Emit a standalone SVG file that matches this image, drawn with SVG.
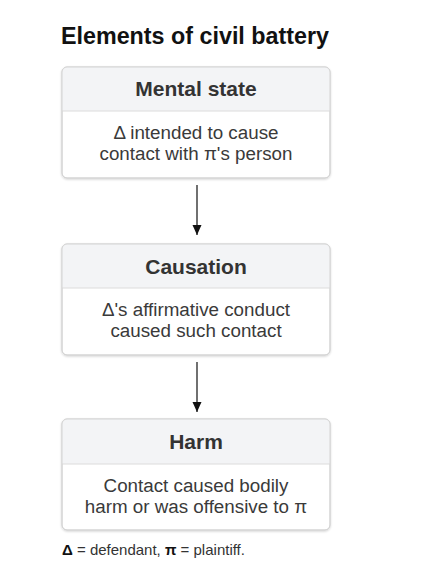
<svg xmlns="http://www.w3.org/2000/svg" width="430" height="566" viewBox="0 0 430 566">
<defs>
<style>
text{font-family:"Liberation Sans",Arial,sans-serif;fill:#222;text-anchor:middle}
.title{font-size:23.3px;font-weight:bold;fill:#111}
.hd{font-size:21px;font-weight:bold;fill:#333}
.bd{font-size:18.8px;fill:#3a3a3a}
.box{fill:#fff;stroke:#d4d4d4;stroke-width:1}
.hdr{fill:#f3f4f6}
.div{stroke:#dcdcdc;stroke-width:1}
.conn{stroke:#111;stroke-width:1.2;fill:none}
.note{font-size:15px;fill:#333;text-anchor:start}
</style>
<filter id="sh" x="-10%" y="-10%" width="120%" height="130%">
<feDropShadow dx="0" dy="1" stdDeviation="1" flood-color="#000" flood-opacity="0.18"/>
</filter>
<marker id="ah" markerWidth="10" markerHeight="12" refX="10" refY="4.5" orient="auto" markerUnits="userSpaceOnUse">
<path d="M0,0 L10,4.5 L0,9 z" fill="#111"/>
</marker>
<clipPath id="c1"><rect x="62" y="67" width="268" height="111" rx="5"/></clipPath>
<clipPath id="c2"><rect x="62" y="244" width="268" height="111" rx="5"/></clipPath>
<clipPath id="c3"><rect x="62" y="419" width="268" height="111" rx="5"/></clipPath>
</defs>
<text class="title" x="195" y="44">Elements of civil battery</text>
<g id="mental-state">
<rect class="box" x="62" y="67" width="268" height="111" rx="5" filter="url(#sh)"/>
<rect class="hdr" x="62" y="67" width="268" height="44" clip-path="url(#c1)"/>
<line class="div" x1="62" y1="111" x2="330" y2="111"/>
<rect x="62" y="67" width="268" height="111" rx="5" fill="none" stroke="#d4d4d4"/>
<text class="hd" x="196" y="96">Mental state</text>
<text class="bd" x="196" y="138.5">Δ intended to cause</text>
<text class="bd" x="196" y="160">contact with π's person</text>
</g>
<g id="causation">
<rect class="box" x="62" y="244" width="268" height="111" rx="5" filter="url(#sh)"/>
<rect class="hdr" x="62" y="244" width="268" height="44" clip-path="url(#c2)"/>
<line class="div" x1="62" y1="288" x2="330" y2="288"/>
<rect x="62" y="244" width="268" height="111" rx="5" fill="none" stroke="#d4d4d4"/>
<text class="hd" x="196" y="274">Causation</text>
<text class="bd" x="196" y="315.5">Δ's affirmative conduct</text>
<text class="bd" x="196" y="337">caused such contact</text>
</g>
<g id="harm">
<rect class="box" x="62" y="419" width="268" height="111" rx="5" filter="url(#sh)"/>
<rect class="hdr" x="62" y="419" width="268" height="45" clip-path="url(#c3)"/>
<line class="div" x1="62" y1="464" x2="330" y2="464"/>
<rect x="62" y="419" width="268" height="111" rx="5" fill="none" stroke="#d4d4d4"/>
<text class="hd" x="196" y="449">Harm</text>
<text class="bd" x="196" y="491.5">Contact caused bodily</text>
<text class="bd" x="196" y="513">harm or was offensive to π</text>
</g>
<g id="connectors">
<line class="conn" x1="197" y1="185" x2="197" y2="235" marker-end="url(#ah)"/>
<line class="conn" x1="197" y1="362" x2="197" y2="412" marker-end="url(#ah)"/>
</g>
<text class="note" x="62" y="555"><tspan font-weight="bold" fill="#111">Δ</tspan> = defendant, <tspan font-weight="bold" fill="#111">π</tspan> = plaintiff.</text>
</svg>
